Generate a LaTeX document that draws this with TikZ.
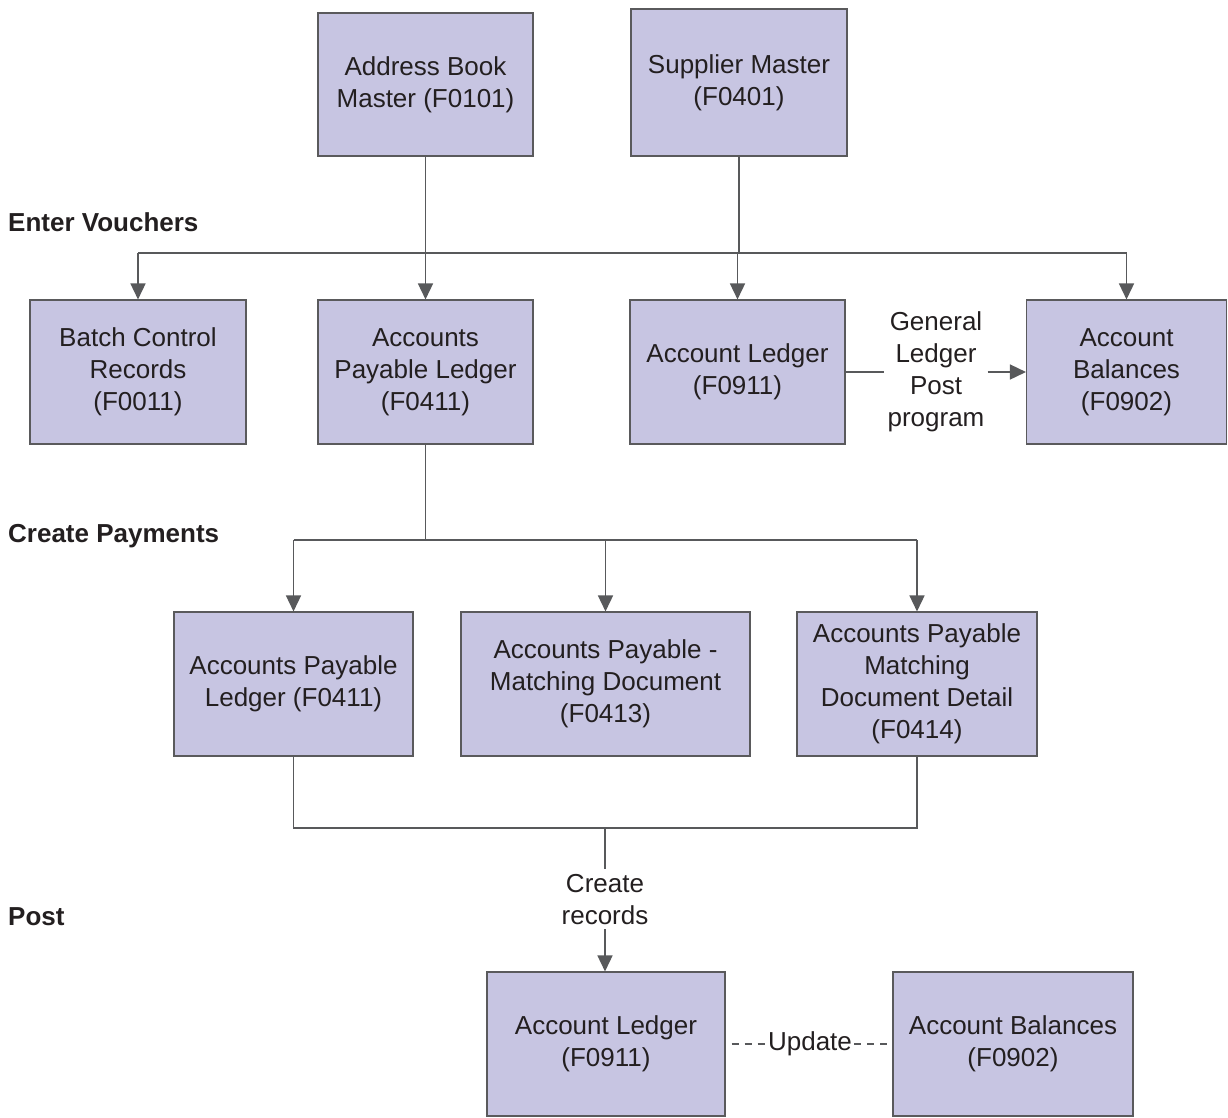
\documentclass[tikz,border=0pt]{standalone}
\usepackage{fontspec}
\setmainfont{Liberation Sans}
\usetikzlibrary{arrows.meta}
\definecolor{boxfill}{HTML}{C7C5E2}
\definecolor{boxline}{HTML}{5A5A5C}
\definecolor{conncol}{HTML}{58595B}
\definecolor{txt}{HTML}{231F20}
\tikzset{
  tbl/.style={draw=boxline, line width=1.1pt, fill=boxfill, inner sep=0pt, align=center,
    text=txt, font=\fontsize{26}{32}\selectfont},
  lbl/.style={inner sep=0pt, align=center, text=txt, font=\fontsize{26}{32}\selectfont},
  sect/.style={inner sep=0pt, anchor=base west, text=txt, font=\fontsize{26}{32}\selectfont\bfseries},
  conn/.style={draw=conncol, line width=1.5pt},
  arr/.style={conn, -{Triangle[length=16pt,width=15pt]}},
  dsh/.style={draw=conncol, line width=1.2pt, dash pattern=on 7pt off 6pt}
}
\begin{document}
\begin{tikzpicture}[x=1pt,y=-1pt]
\useasboundingbox (0,0) rectangle (1228,1117);
% boxes
\node[tbl, minimum width=215pt, minimum height=143pt] (AB) at (425.5,84.5) {Address Book\\Master (F0101)};
\node[tbl, minimum width=216pt, minimum height=147pt] (SM) at (739,82.5) {Supplier Master\\(F0401)};
\node[tbl, minimum width=216pt, minimum height=144pt] (BCR) at (138,372) {Batch Control\\Records\\(F0011)};
\node[tbl, minimum width=215pt, minimum height=144pt] (APL) at (425.5,372) {Accounts\\Payable Ledger\\(F0411)};
\node[tbl, minimum width=215pt, minimum height=144pt] (AL) at (737.5,372) {Account Ledger\\(F0911)};
\node[tbl, minimum width=200pt, minimum height=144pt] (ABal) at (1126.5,372) {Account\\Balances\\(F0902)};
\node[tbl, minimum width=239pt, minimum height=144pt] (APL2) at (293.5,684) {Accounts Payable\\Ledger (F0411)};
\node[tbl, minimum width=289pt, minimum height=144pt] (APMD) at (605.5,684) {Accounts Payable -\\Matching Document\\(F0413)};
\node[tbl, minimum width=240pt, minimum height=144pt] (APMDD) at (917,684) {Accounts Payable\\Matching\\Document Detail\\(F0414)};
\node[tbl, minimum width=238pt, minimum height=144pt] (AL2) at (606,1044) {Account Ledger\\(F0911)};
\node[tbl, minimum width=240pt, minimum height=144pt] (AB2) at (1013,1044) {Account Balances\\(F0902)};
% section labels
\node[sect] (s1) at (8,231.5) {Enter Vouchers};
\node[sect] (s2) at (8,542.5) {Create Payments};
\node[sect] (s3) at (8,925.5) {Post};
% labels
\node[lbl] (glp) at (936,372) {General\\Ledger\\Post\\program};
\node[lbl] (cr) at (605,900) {Create\\records};
\node[lbl] (upd) at (810,1044) {Update};
% enter vouchers connectors
\coordinate (h1) at (0,253);
\draw[arr] (AB.south) -- (APL.north);
\draw[conn] (SM.south) -- (SM.south |- h1);
\draw[conn] (BCR.north |- h1) -- (ABal.north |- h1);
\draw[arr] (BCR.north |- h1) -- (BCR.north);
\draw[arr] (AL.north |- h1) -- (AL.north);
\draw[arr] (ABal.north |- h1) -- (ABal.north);
\draw[conn] (AL.east) -- ([xshift=-3pt]glp.west |- AL.east);
\draw[arr] ([xshift=3pt]glp.east |- ABal.west) -- (ABal.west);
% create payments connectors
\coordinate (h2) at (0,540);
\draw[conn] (APL.south) -- (APL.south |- h2);
\draw[conn] (APL2.north |- h2) -- (APMDD.north |- h2);
\draw[arr] (APL2.north |- h2) -- (APL2.north);
\draw[arr] (APMD.north |- h2) -- (APMD.north);
\draw[arr] (APMDD.north |- h2) -- (APMDD.north);
% post connectors
\coordinate (h3) at (0,828);
\draw[conn] (APL2.south) -- (APL2.south |- h3) -- (APMDD.south |- h3) -- (APMDD.south);
\draw[conn] (cr.north |- h3) -- ([yshift=6pt]cr.north);
\draw[arr] ([yshift=-4pt]cr.south) -- (cr.south |- AL2.north);
\draw[dsh] ([xshift=6pt]AL2.east) -- ([xshift=-2pt]upd.west);
\draw[dsh] ([xshift=2pt]upd.east) -- (AB2.west);
\end{tikzpicture}
\end{document}
